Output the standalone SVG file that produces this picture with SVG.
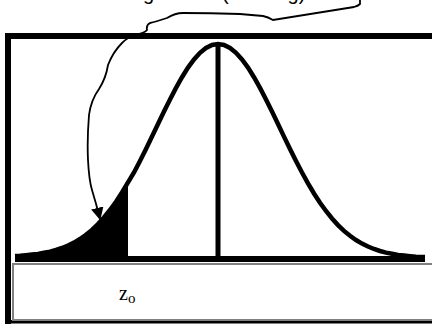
<svg xmlns="http://www.w3.org/2000/svg" width="432" height="324" viewBox="0 0 432 324">
<style>
.frame{fill:#000}
.curve{fill:none;stroke:#000;stroke-width:4.5;stroke-linejoin:miter}
.conn{fill:none;stroke:#000;stroke-width:1.8;stroke-linecap:round}
.lbl{font-family:"Liberation Serif",serif;fill:#000}
.top{font-family:"Liberation Sans",sans-serif;font-size:20px;fill:#000}
</style>
<defs>
<marker id="ah" viewBox="0 0 10 10" refX="9" refY="5" markerWidth="7" markerHeight="7" orient="auto" markerUnits="strokeWidth">
<path d="M0,0 L10,5 L0,10 Z" fill="#000"/>
</marker>
</defs>
<rect width="432" height="324" fill="#fff"/>
<g id="title">
<text class="top" x="63" y="0">Area integral<tspan x="222">(shading)</tspan></text>
</g>
<g id="frame">
<rect class="frame" x="5" y="33" width="427" height="6"/>
<rect class="frame" x="5" y="33" width="6" height="291"/>
<rect class="frame" x="5" y="320" width="427" height="3.5"/>
</g>
<g id="plot">
<path id="tail" fill="#000" d="M15,258 L15,257 L20,256.7 L26,256.2 L32,255.6 L38,254.9 L44,253.8 L50,252.6 L56,251 L62,249 L68,246.5 L74,243.6 L80,240 L86,235.8 L92,230.9 L98,225.1 L104,218.5 L110,211 L116,202.7 L122,193.5 L128,183.4 L128,258 Z"/>
<polyline class="curve" points="15,256 20,255.7 26,255.2 32,254.6 38,253.9 44,252.8 50,251.6 56,250 62,248 68,245.5 74,242.6 80,239 86,234.8 92,229.9 98,224.1 104,217.5 110,210 116,201.7 122,192.5 128,182.4 134,172.5 140,161 146,149 152,136.6 158,124 164,111.6 170,99.4 176,87.9 182,77.2 188,67.6 194,59.5 200,52.8 206,48 212,45 218,44 224,45 230,48 236,52.8 242,59.5 248,67.6 254,77.2 260,87.9 266,99.4 272,111.6 278,124 284,136.6 290,149 296,161 302,172.5 308,183.4 314,193.5 320,202.7 326,211 332,218.5 338,225.1 344,230.9 350,235.8 356,240 362,243.6 368,246.5 374,249 380,251 386,252.6 392,253.8 398,254.9 404,255.6 410,256.2 416,256.7 425,257"/>
<rect class="frame" x="15" y="256" width="410" height="6"/>
<rect class="frame" x="215.5" y="44" width="5" height="214"/>
</g>
<g id="zbox">
<rect x="13" y="264" width="421" height="56" fill="none" stroke="#808080" stroke-width="2"/>
<text class="lbl" x="119" y="300" font-size="20">z<tspan font-size="15" dy="3">o</tspan></text>
</g>
<g id="connectors">
<path class="conn" marker-end="url(#ah)" d="M360,0 L360,4 Q358,6 354,7 L273,20 Q268,17 263,16 L240,14 Q210,13 183,13 Q175,13 167,18 Q155,22 150,23 Q146,25 147,30 Q145,33 135,35 Q128,37 122,43 Q113,52 108,65 Q106,78 99,89 Q91,100 89,115 Q87,140 88,160 Q89,180 92,190 Q96,203 100,219"/>
</g>
</svg>
